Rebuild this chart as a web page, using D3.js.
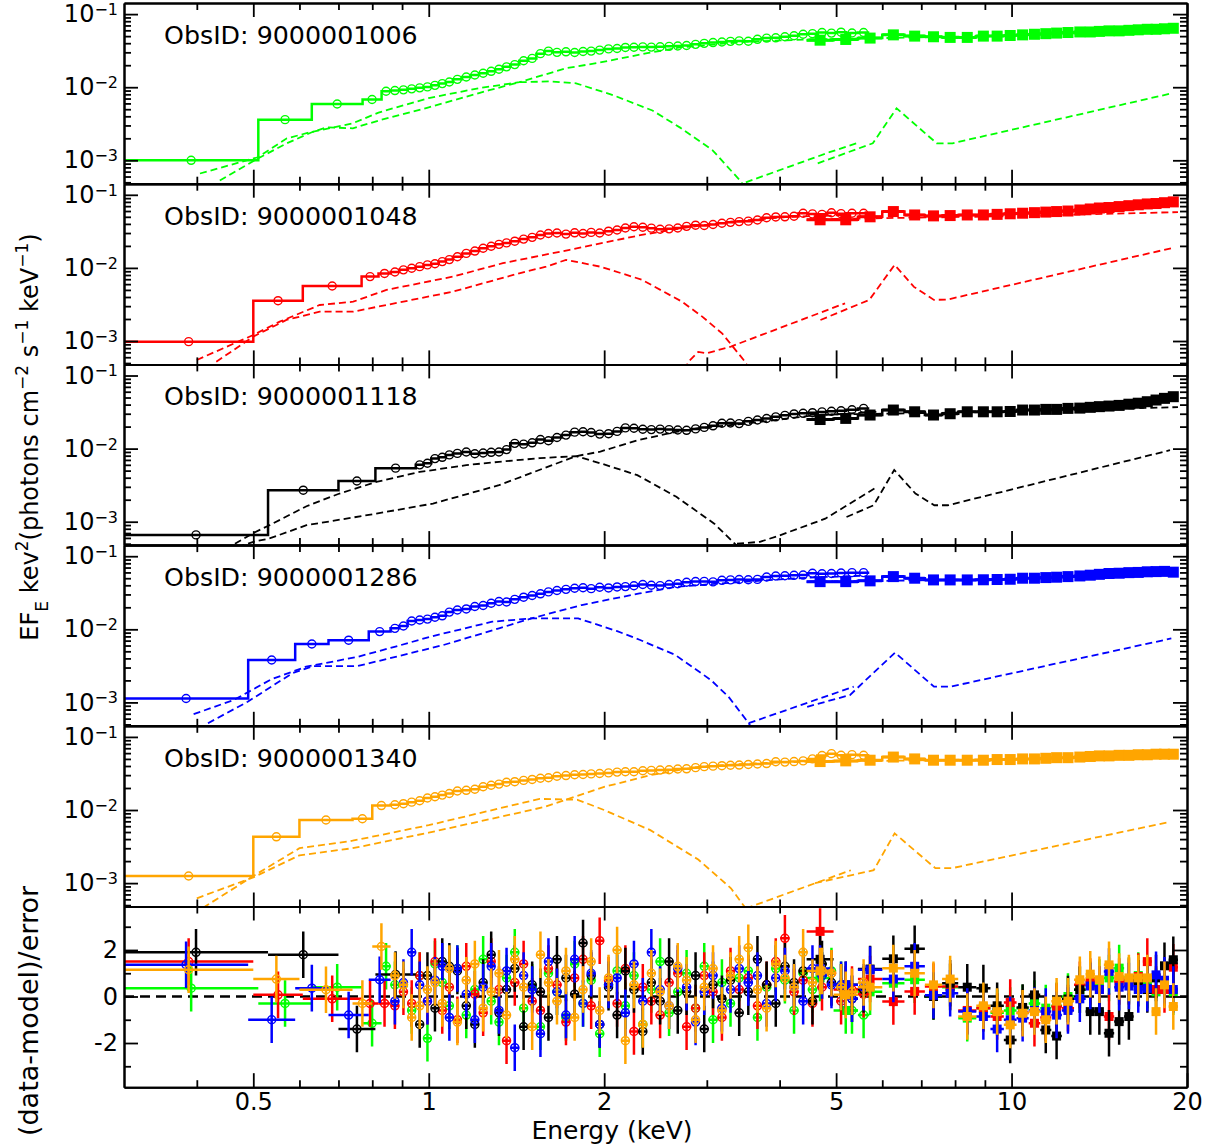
<!DOCTYPE html>
<html>
<head>
<meta charset="utf-8">
<script src="https://cdn.jsdelivr.net/npm/d3@7"></script>
<style>
  body { margin: 0; background: #fff; }
  text { font-family: "DejaVu Sans", sans-serif; }
</style>
</head>
<body>
<div id="chart"></div>
<script>
// observations, one panel each
const obsIds = ["9000001006", "9000001048", "9000001118", "9000001286", "9000001340"];
const colors = ["#00ff00", "#ff0000", "#000000", "#0000ff", "#ffa500"];

// shared fine binning of the soft instrument (keV)
const fineEdges = [0.86, 0.89, 0.92, 0.95, 0.98, 1.01, 1.04, 1.07, 1.10, 1.14, 1.18,
  1.22, 1.26, 1.30, 1.34, 1.38, 1.43, 1.48, 1.53, 1.58, 1.63, 1.69,
  1.75, 1.81, 1.87, 1.93, 2.00, 2.07, 2.14, 2.21, 2.29, 2.37, 2.45,
  2.54, 2.63, 2.72, 2.82, 2.92, 3.02, 3.13, 3.24, 3.35, 3.47, 3.60,
  3.73, 3.87, 4.01, 4.16, 4.31, 4.47, 4.64, 4.82, 5.00, 5.20, 5.45,
  5.70];
// hard instrument binning (keV)
const hardEdges = [4.45, 4.95, 5.45, 6.0, 6.55, 7.1, 7.6, 8.1, 8.7, 9.2, 9.7, 10.2, 10.7, 11.2,
  11.7, 12.2, 12.8, 13.4, 13.9, 14.4, 15.0, 15.6, 16.2, 16.8, 17.4, 18.0, 18.6, 19.3];

// ---- 9000001006 (green)
const coarseEdges1006 = [0.3, 0.51, 0.63, 0.77, 0.83, 0.86];
const coarseFlux1006 = [1.0e-3, 3.6e-3, 5.9e-3, 6.8e-3, 8.8e-3];
const coarseRes1006 = [0.36, -0.3, 0.4, -1.15, 1.3];
const fineFlux1006 = [0.0090, 0.0092, 0.0095, 0.0098, 0.0101, 0.0106, 0.0112, 0.0118, 0.0128, 0.0138, 0.0147,
  0.0155, 0.0165, 0.0176, 0.0190, 0.0204, 0.0230, 0.0248, 0.0288, 0.0312, 0.0300, 0.0305,
  0.0298, 0.0308, 0.0312, 0.0322, 0.0334, 0.0338, 0.0350, 0.0352, 0.0356, 0.0354, 0.0358,
  0.0362, 0.0366, 0.0372, 0.0386, 0.0398, 0.0408, 0.0416, 0.0424, 0.0430, 0.0426, 0.0452,
  0.0470, 0.0474, 0.0490, 0.0506, 0.0530, 0.0540, 0.0560, 0.0550, 0.0566, 0.0552, 0.0560];
const fineRes1006 = [0.5, 0.5, -0.6, 0.9, -1.8, 1.4, 0.6, -0.4, 1.2, -0.8, 0.3,
  1.6, -0.2, -1.1, 0.8, 1.9, -0.5, 0.4, -1.3, 1.0, 0.2, -0.9,
  1.4, -0.3, 0.7, -1.6, 0.5, 1.1, -0.4, 0.9, -1.2, 0.3, 1.5,
  -0.7, 0.2, 1.0, -0.5, 1.3, -1.0, 0.6, -0.3, 0.8, 1.1, -0.9,
  0.4, 1.2, 0.7, -0.6, 1.0, 0.3, 0.9, 1.1, 0.5, -0.6, -0.8];
const hardFlux1006 = [0.044, 0.045, 0.047, 0.052, 0.050, 0.049, 0.048, 0.048, 0.050, 0.050, 0.051, 0.052, 0.053, 0.054,
  0.055, 0.056, 0.057, 0.057, 0.058, 0.059, 0.059, 0.060, 0.061, 0.062, 0.062, 0.063, 0.064];
const hardRes1006 = [0.8, -0.6, 0.2, 0.57, 0.72, 0.0, 0.4, -0.93, -0.5, -0.7, -0.6, -0.5, -0.3, -0.5,
  -0.4, 0.0, 0.3, 0.5, 0.6, 0.8, 1.22, 0.7, 0.9, 0.5, 0.2, 0.6, 0.2];
const cont1006 = [[0.405, 6.6e-4], [0.509, 1.1e-3], [0.571, 2.0e-3], [0.63, 2.45e-3], [0.74, 3.2e-3], [0.82, 4.5e-3],
  [1.0, 7.1e-3], [1.22, 9.7e-3], [1.43, 1.17e-2], [1.72, 1.82e-2], [1.94, 2.13e-2], [2.37, 2.92e-2], [2.7, 3.5e-2],
  [3.5, 4.2e-2], [4.5, 4.5e-2], [5.5, 4.6e-2]];
const hump1006 = [[0.438, 5.3e-4], [0.509, 1.06e-3], [0.571, 1.71e-3], [0.63, 2.42e-3], [0.668, 2.83e-3], [0.741, 2.74e-3],
  [0.824, 3.53e-3], [1.0, 5.3e-3], [1.27, 9.1e-3], [1.43, 1.17e-2], [1.61, 1.2e-2], [1.79, 1.13e-2], [2.07, 7.8e-3],
  [2.42, 4.8e-3], [2.7, 2.8e-3], [3.07, 1.37e-3], [3.42, 5.3e-4], [3.6, 3.0e-4]];
const reflSoft1006 = [[3.5, 5.0e-4], [4.87, 1.29e-3], [5.42, 1.71e-3]];
const reflHard1006 = [[4.65, 9.1e-4], [5.78, 1.71e-3], [6.35, 5.15e-3], [7.44, 1.71e-3], [7.92, 1.71e-3], [18.9, 8.3e-3]];
const contHard1006 = [[4.5, 0.045], [6, 0.047], [10, 0.051], [19.3, 0.060]];

// ---- 9000001048 (red)
const coarseEdges1048 = [0.3, 0.5, 0.608, 0.767, 0.82, 0.86];
const coarseFlux1048 = [9.8e-4, 3.56e-3, 5.66e-3, 7.6e-3, 8.4e-3];
const coarseRes1048 = [1.5, 0.07, -0.1, -0.3, -0.3];
const fineFlux1048 = [0.0088, 0.0094, 0.0099, 0.0104, 0.0110, 0.0114, 0.0122, 0.0130, 0.0142, 0.0158, 0.0170,
  0.0186, 0.0198, 0.0210, 0.0220, 0.0232, 0.0248, 0.0262, 0.0282, 0.0296, 0.0300, 0.0290,
  0.0302, 0.0296, 0.0306, 0.0300, 0.0318, 0.0330, 0.0352, 0.0366, 0.0360, 0.0350, 0.0338,
  0.0342, 0.0352, 0.0370, 0.0384, 0.0380, 0.0392, 0.0408, 0.0420, 0.0430, 0.0436, 0.0452,
  0.0486, 0.0498, 0.0500, 0.0510, 0.0560, 0.0548, 0.0540, 0.0568, 0.0552, 0.0560, 0.0560];
const fineRes1048 = [-0.4, 0.2, -0.3, 0.9, -0.2, 1.5, -0.6, 0.4, -1.0, 1.3, 0.1,
  -0.7, 1.5, 0.3, -1.9, 0.6, 1.4, -0.2, -0.6, 1.2, 0.5, -1.1,
  0.8, 1.6, -0.4, 2.4, 0.7, -0.3, 1.2, -1.5, 0.4, -0.2, -0.8,
  0.6, 1.0, -1.3, -0.5, 0.9, 0.2, -0.9, 1.1, 0.3, 0.8, -0.4,
  0.5, 1.5, 2.5, 0.2, 0.7, -0.3, 0.4, 1.0, -0.2, 0.3, 0.1];
const hardFlux1048 = [0.0455, 0.0455, 0.050, 0.059, 0.053, 0.0515, 0.052, 0.053, 0.053, 0.054, 0.055, 0.056, 0.057, 0.058,
  0.059, 0.060, 0.062, 0.064, 0.066, 0.067, 0.069, 0.071, 0.073, 0.075, 0.076, 0.078, 0.080];
const hardRes1048 = [2.8, 0.3, 0.75, -0.22, 0.22, 0.43, 0.43, -0.6, -0.5, -0.86, -0.26, -0.7, -1.15, -0.9,
  -0.43, -0.5, 0.5, 0.65, 0.3, -0.86, 0.65, 0.65, 0.86, 1.5, 0.3, 0.3, 1.26];
const cont1048 = [[0.40, 5.5e-4], [0.50, 1.21e-3], [0.555, 1.84e-3], [0.65, 3.11e-3], [0.742, 3.45e-3], [0.846, 5.0e-3],
  [1.10, 7.6e-3], [1.34, 1.16e-2], [1.745, 1.77e-2], [2.32, 2.83e-2], [2.72, 3.5e-2], [3.3, 4.3e-2], [4.15, 5.0e-2],
  [5.3, 5.3e-2]];
const hump1048 = [[0.432, 5.2e-4], [0.50, 1.15e-3], [0.57, 1.94e-3], [0.65, 2.52e-3], [0.742, 2.52e-3], [0.846, 3.11e-3],
  [1.10, 4.73e-3], [1.43, 8.45e-3], [1.59, 1.04e-2], [1.72, 1.29e-2], [1.97, 1.04e-2], [2.32, 6.9e-3], [2.72, 3.45e-3],
  [2.95, 2.14e-3], [3.19, 1.26e-3], [3.47, 5.5e-4], [3.6, 3.5e-4]];
const reflSoft1048 = [[2.75, 4.0e-4], [2.79, 5.2e-4], [2.9, 7.1e-4], [3.0, 6.8e-4], [3.3, 8.4e-4], [5.18, 3.28e-3]];
const reflHard1048 = [[4.7, 1.94e-3], [5.7, 3.65e-3], [6.3, 1.1e-2], [6.8, 5.5e-3], [7.36, 3.65e-3], [7.77, 3.7e-3], [18.8, 1.86e-2]];
const contHard1048 = [[4.5, 0.046], [6, 0.048], [10, 0.051], [19.3, 0.058]];

// ---- 9000001118 (black)
const coarseEdges1118 = [0.3, 0.53, 0.70, 0.81, 0.95];
const coarseFlux1118 = [6.6e-4, 2.7e-3, 3.6e-3, 5.4e-3];
const coarseRes1118 = [1.9, 1.8, -1.4, 0.95];
const fineFlux1118 = [null, null, null, 0.0060, 0.0063, 0.0073, 0.0076, 0.0082, 0.0086, 0.0090, 0.0085,
  0.0087, 0.0089, 0.0090, 0.0097, 0.0118, 0.0115, 0.0120, 0.0133, 0.0128, 0.0142, 0.0153,
  0.0168, 0.0170, 0.0166, 0.0158, 0.0160, 0.0172, 0.0192, 0.0190, 0.0184, 0.0182, 0.0185,
  0.0182, 0.0180, 0.0178, 0.0186, 0.0195, 0.0205, 0.0222, 0.0224, 0.0220, 0.0236, 0.0246,
  0.0258, 0.0272, 0.0285, 0.0298, 0.0304, 0.0310, 0.0318, 0.0324, 0.0330, 0.0340, 0.0355];
const fineRes1118 = [null, null, null, -1.2, 0.9, -0.5, 1.5, 1.3, 1.1, -0.4, -1.2,
  0.6, 1.8, -0.7, 0.3, 1.2, -1.3, 0.5, 0.2, -0.9, 1.6, 0.8,
  0.1, 2.3, 0.9, -1.2, 0.4, -0.8, 1.1, 0.3, -1.5, 0.6, -0.2,
  1.5, -0.6, 0.2, 0.9, -1.4, 0.5, -0.1, 0.7, -0.7, 0.2, 1.6,
  0.5, -0.3, 1.3, 0.6, 1.1, -0.2, 1.4, 0.6, 0.4, -0.1, 0.3];
const hardFlux1118 = [0.025, 0.0259, 0.0288, 0.0337, 0.0319, 0.0288, 0.030, 0.0319, 0.0319, 0.0319, 0.0322, 0.0337, 0.0337,
  0.0344, 0.0344, 0.0355, 0.0358, 0.0367, 0.0375, 0.0382, 0.0390, 0.0405, 0.0418, 0.0438, 0.0462, 0.0487, 0.0513];
const hardRes1118 = [1.6, 0.5, 1.18, 1.62, 2.05, 0.0, 0.57, 0.4, 0.36, -0.4, -1.87, -0.47, 0.07, -1.44,
  -1.7, -0.11, 0.29, -0.65, -0.65, -1.58, -1.08, -0.86, 0.57, 0.3, 0.8, 1.32, 1.58];
const cont1118 = [[0.47, 4.5e-4], [0.50, 5.3e-4], [0.533, 5.9e-4], [0.617, 8.95e-4], [0.813, 1.29e-3], [1.017, 1.77e-3],
  [1.32, 3.16e-3], [1.79, 7.9e-3], [1.97, 9.1e-3], [2.28, 1.3e-2], [2.66, 1.7e-2], [2.9, 1.9e-2], [3.5, 2.2e-2],
  [4.5, 2.8e-2], [5.9, 3.2e-2]];
const hump1118 = [[0.465, 5.0e-4], [0.50, 7.0e-4], [0.533, 8.95e-4], [0.617, 1.63e-3], [0.703, 2.43e-3], [0.813, 3.5e-3],
  [0.965, 4.8e-3], [1.16, 5.94e-3], [1.32, 6.6e-3], [1.55, 7.4e-3], [1.79, 7.9e-3], [1.97, 6.3e-3], [2.28, 4.34e-3],
  [2.66, 2.19e-3], [3.09, 9.4e-4], [3.35, 5.0e-4], [3.5, 3.5e-4]];
const reflSoft1118 = [[3.38, 5.0e-4], [3.7, 5.3e-4], [4.0, 6.5e-4], [4.79, 1.1e-3], [5.88, 3.0e-3]];
const reflHard1118 = [[5.21, 1.16e-3], [5.8, 1.68e-3], [6.29, 5.1e-3], [6.84, 2.43e-3], [7.37, 1.68e-3], [7.78, 1.68e-3], [18.7, 9.5e-3]];
const contHard1118 = [[4.5, 0.029], [6, 0.030], [10, 0.032], [19.3, 0.037]];

// ---- 9000001286 (blue)
const coarseEdges1286 = [0.3, 0.49, 0.59, 0.673, 0.789, 0.86];
const coarseFlux1286 = [1.13e-3, 3.8e-3, 6.3e-3, 7.1e-3, 9.3e-3];
const coarseRes1286 = [1.37, -1.0, 0.36, -0.8, 0.72];
const fineFlux1286 = [0.0103, 0.0111, 0.0130, 0.0134, 0.0138, 0.0146, 0.0153, 0.0172, 0.0184, 0.0190, 0.0205,
  0.0212, 0.0227, 0.0240, 0.0236, 0.0257, 0.0275, 0.0290, 0.0306, 0.0325, 0.0340, 0.0352,
  0.0365, 0.0370, 0.0360, 0.0376, 0.0368, 0.0380, 0.0384, 0.0395, 0.0410, 0.0400, 0.0396,
  0.0410, 0.0420, 0.0440, 0.0450, 0.0452, 0.0446, 0.0468, 0.0474, 0.0480, 0.0476, 0.0482,
  0.0520, 0.0536, 0.0540, 0.0548, 0.0552, 0.0585, 0.0575, 0.0580, 0.0590, 0.0596, 0.0596];
const fineRes1286 = [-0.2, 0.6, 1.9, 0.5, -0.2, 0.7, 1.3, -0.9, 1.2, 0.1, -1.0,
  0.4, 1.3, -0.6, 1.1, -2.2, 0.9, 0.3, -1.6, 1.5, 0.2, -0.8,
  1.6, -0.3, 1.0, -1.2, 0.5, 0.8, -0.7, 1.4, -0.2, 1.9, 0.3,
  -0.4, 1.2, 0.4, -1.1, 0.2, 0.9, -0.5, 0.3, 1.2, 0.6, 0.9,
  -0.3, 0.8, 1.1, 0.4, -0.2, 1.2, 0.9, 0.5, 0.5, -0.1, 0.4];
const hardFlux1286 = [0.0449, 0.0449, 0.046, 0.0526, 0.050, 0.0474, 0.0474, 0.0474, 0.0476, 0.048, 0.0484, 0.050, 0.050,
  0.051, 0.0516, 0.0526, 0.0537, 0.055, 0.0565, 0.058, 0.0585, 0.0596, 0.060, 0.0612, 0.0616, 0.062, 0.0605];
const hardRes1286 = [1.2, 0.5, 1.15, 0.75, 1.3, 0.05, 0.14, -0.65, -0.86, -1.4, -1.0, -0.93, -0.6, -0.65,
  -0.8, -0.6, -0.1, 0.45, 0.3, 1.08, 0.4, 0.45, 0.3, 0.35, 0.93, 0.7, 0.3];
const cont1286 = [[0.418, 5.2e-4], [0.489, 1.02e-3], [0.583, 2.5e-3], [0.634, 3.14e-3], [0.755, 3.14e-3], [0.877, 4.2e-3],
  [1.06, 6.1e-3], [1.32, 1.03e-2], [1.5, 1.41e-2], [1.83, 2.15e-2], [2.3, 3.1e-2], [2.65, 3.8e-2], [3.5, 4.5e-2],
  [4.5, 5.1e-2], [5.5, 5.4e-2]];
const hump1286 = [[0.395, 6.9e-4], [0.463, 1.08e-3], [0.537, 2.07e-3], [0.616, 3.08e-3], [0.755, 4.2e-3], [0.877, 5.8e-3],
  [1.005, 7.9e-3], [1.285, 1.27e-2], [1.5, 1.41e-2], [1.805, 1.41e-2], [2.1, 9.5e-3], [2.3, 7.2e-3], [2.65, 4.45e-3],
  [3.05, 2.02e-3], [3.27, 1.19e-3], [3.54, 5.2e-4], [3.65, 3.5e-4]];
const reflSoft1286 = [[3.54, 5.2e-4], [5.36, 1.64e-3]];
const reflHard1286 = [[4.46, 8.7e-4], [5.28, 1.26e-3], [6.31, 4.8e-3], [7.36, 1.64e-3], [7.85, 1.64e-3], [18.8, 7.5e-3]];
const contHard1286 = [[4.5, 0.045], [6, 0.046], [10, 0.049], [19.3, 0.057]];

// ---- 9000001340 (orange)
const coarseEdges1340 = [0.3, 0.5, 0.6, 0.74, 0.80, 0.86];
const coarseFlux1340 = [1.25e-3, 4.3e-3, 7.3e-3, 7.6e-3, 1.15e-2];
const coarseRes1340 = [1.15, 0.75, 0.29, -0.3, 2.15];
const fineFlux1340 = [0.0118, 0.0122, 0.0128, 0.0134, 0.0146, 0.0152, 0.0160, 0.0168, 0.0182, 0.0186, 0.0192,
  0.0208, 0.0218, 0.0226, 0.0240, 0.0244, 0.0254, 0.0262, 0.0272, 0.0276, 0.0290, 0.0296,
  0.0304, 0.0306, 0.0312, 0.0316, 0.0322, 0.0330, 0.0334, 0.0334, 0.0344, 0.0348, 0.0352,
  0.0356, 0.0364, 0.0366, 0.0380, 0.0392, 0.0398, 0.0404, 0.0410, 0.0412, 0.0420, 0.0426,
  0.0432, 0.0458, 0.0452, 0.0460, 0.0470, 0.0500, 0.0556, 0.0590, 0.0560, 0.0572, 0.0560];
const fineRes1340 = [0.9, 0.5, -0.9, -0.4, 0.3, 0.6, -0.3, 1.2, -1.1, 0.7, 1.4,
  -0.5, 0.2, 1.0, -0.8, 1.6, 0.4, -1.3, 1.8, 0.6, -0.2, 1.1,
  -0.9, 0.3, 1.5, -0.6, 0.8, 2.0, -1.9, 0.5, -1.2, 1.0, 0.2,
  -0.4, 1.3, 0.7, -1.0, 0.4, 1.2, -0.6, 0.9, 1.6, 2.1, 0.3,
  -0.5, 1.4, 0.8, 0.4, 1.9, 0.6, 1.1, 1.0, 0.4, 0.2, 0.6];
const hardFlux1340 = [0.046, 0.047, 0.048, 0.053, 0.050, 0.048, 0.048, 0.048, 0.048, 0.049, 0.049, 0.050, 0.050, 0.051,
  0.052, 0.052, 0.053, 0.054, 0.055, 0.055, 0.056, 0.056, 0.057, 0.057, 0.058, 0.058, 0.058];
const hardRes1340 = [1.1, 0.07, 0.4, 1.22, 1.0, 0.5, 0.75, -0.86, -0.4, -0.65, -1.22, -0.72, -0.65, -1.0,
  -0.2, -0.2, 0.72, 0.96, 0.72, 1.36, 0.86, 0.8, 0.8, 0.8, -0.65, 0.5, -0.43];
const cont1340 = [[0.40, 6.2e-4], [0.5, 1.2e-3], [0.6, 2.4e-3], [0.74, 3.0e-3], [1.0, 4.9e-3], [1.32, 8.0e-3],
  [1.58, 1.1e-2], [2.0, 2.07e-2], [2.4, 3.0e-2], [2.9, 3.9e-2], [3.5, 4.3e-2], [4.5, 4.6e-2], [5.4, 4.7e-2]];
const hump1340 = [[0.41, 4.6e-4], [0.5, 1.25e-3], [0.6, 3.0e-3], [0.74, 3.8e-3], [1.0, 6.2e-3], [1.32, 1.05e-2],
  [1.55, 1.42e-2], [1.8, 1.38e-2], [2.0, 1.0e-2], [2.4, 5.3e-3], [2.9, 2.1e-3], [3.3, 8.5e-4], [3.5, 4.5e-4]];
const reflSoft1340 = [[3.5, 4.5e-4], [5.3, 1.5e-3]];
const reflHard1340 = [[4.6, 1.0e-3], [5.8, 1.5e-3], [6.3, 4.8e-3], [7.4, 1.6e-3], [7.9, 1.6e-3], [18.7, 6.9e-3]];
const contHard1340 = [[4.5, 0.046], [6, 0.047], [10, 0.050], [19.3, 0.056]];

// axis ticks
const xMajor = [0.5, 1, 2, 5, 10, 20];
const xMinor = [0.4, 0.6, 0.7, 0.8, 0.9, 3, 4, 6, 7, 8, 9];
const yMajor = [1e-3, 1e-2, 1e-1];
const yMinor = [5e-4, 6e-4, 7e-4, 8e-4, 9e-4, 2e-3, 3e-3, 4e-3, 5e-3, 6e-3, 7e-3, 8e-3, 9e-3,
  2e-2, 3e-2, 4e-2, 5e-2, 6e-2, 7e-2, 8e-2, 9e-2];
const resMajor = [-2, 0, 2];
const resMinor = [-3, -1, 1, 3];

const spectra = [
  {id: obsIds[0], color: colors[0], coarseEdges: coarseEdges1006, coarseFlux: coarseFlux1006, coarseRes: coarseRes1006,
    fineFlux: fineFlux1006, fineRes: fineRes1006, hardFlux: hardFlux1006, hardRes: hardRes1006,
    comps: [cont1006, hump1006, reflSoft1006, reflHard1006, contHard1006]},
  {id: obsIds[1], color: colors[1], coarseEdges: coarseEdges1048, coarseFlux: coarseFlux1048, coarseRes: coarseRes1048,
    fineFlux: fineFlux1048, fineRes: fineRes1048, hardFlux: hardFlux1048, hardRes: hardRes1048,
    comps: [cont1048, hump1048, reflSoft1048, reflHard1048, contHard1048]},
  {id: obsIds[2], color: colors[2], coarseEdges: coarseEdges1118, coarseFlux: coarseFlux1118, coarseRes: coarseRes1118,
    fineFlux: fineFlux1118, fineRes: fineRes1118, hardFlux: hardFlux1118, hardRes: hardRes1118,
    comps: [cont1118, hump1118, reflSoft1118, reflHard1118, contHard1118]},
  {id: obsIds[3], color: colors[3], coarseEdges: coarseEdges1286, coarseFlux: coarseFlux1286, coarseRes: coarseRes1286,
    fineFlux: fineFlux1286, fineRes: fineRes1286, hardFlux: hardFlux1286, hardRes: hardRes1286,
    comps: [cont1286, hump1286, reflSoft1286, reflHard1286, contHard1286]},
  {id: obsIds[4], color: colors[4], coarseEdges: coarseEdges1340, coarseFlux: coarseFlux1340, coarseRes: coarseRes1340,
    fineFlux: fineFlux1340, fineRes: fineRes1340, hardFlux: hardFlux1340, hardRes: hardRes1340,
    comps: [cont1340, hump1340, reflSoft1340, reflHard1340, contHard1340]}
];

// turn edges + values into bins
function bins(edges, values, res) {
  return values.map((v, i) => ({lo: edges[i], hi: edges[i + 1], v: v, r: res[i]}))
    .filter(b => b.v != null);
}
spectra.forEach(s => {
  s.soft = bins(s.coarseEdges, s.coarseFlux, s.coarseRes).concat(bins(fineEdges, s.fineFlux, s.fineRes));
  s.hard = bins(hardEdges, s.hardFlux, s.hardRes);
});

const width = 1217;
const height = 1148;
const plotLeft = 124;
const plotRight = 1187;
const plotTop = 3;
const panelH = 180.7;

const x = d3.scaleLog().domain([0.3, 20]).range([plotLeft, plotRight]);
const y = d3.scaleLog().domain([Math.pow(10, -3.32), Math.pow(10, -0.848)]).range([panelH, 0]);
const yRes = d3.scaleLinear().domain([-3.9, 3.87]).range([panelH, 0]);

const svg = d3.create("svg")
  .attr("width", width)
  .attr("height", height)
  .style("background", "#fff");

const stepLine = d3.line().curve(d3.curveStepAfter).x(d => x(d[0])).y(d => y(d[1]));
const compLine = d3.line().x(d => x(d[0])).y(d => y(d[1]));
const stepPts = bs => bs.map(b => [b.lo, b.v]).concat([[bs[bs.length - 1].hi, bs[bs.length - 1].v]]);
const mid = b => Math.sqrt(b.lo * b.hi);

// frame with inward ticks on all four sides
function frame(g, yScale, majorY, minorY, yFormat, xLabels) {
  const tk = sel => sel.attr("font-size", 24).attr("font-family", "DejaVu Sans")
    .call(s => s.select(".domain").attr("stroke-width", 2))
    .call(s => s.selectAll(".tick line").attr("stroke-width", 1.8));

  const left = g.append("g").attr("class", "y-major").attr("transform", `translate(${plotLeft},0)`)
    .call(d3.axisLeft(yScale).tickValues(majorY).tickSize(-14).tickSizeOuter(0).tickPadding(6).tickFormat(yFormat))
    .call(tk);
  g.append("g").attr("transform", `translate(${plotLeft},0)`)
    .call(d3.axisLeft(yScale).tickValues(minorY).tickSize(-7).tickSizeOuter(0).tickFormat(""))
    .call(tk);
  g.append("g").attr("transform", `translate(${plotRight},0)`)
    .call(d3.axisRight(yScale).tickValues(majorY).tickSize(-14).tickSizeOuter(0).tickFormat(""))
    .call(tk);
  g.append("g").attr("transform", `translate(${plotRight},0)`)
    .call(d3.axisRight(yScale).tickValues(minorY).tickSize(-7).tickSizeOuter(0).tickFormat(""))
    .call(tk);
  g.append("g")
    .call(d3.axisTop(x).tickValues(xMajor).tickSize(-14).tickSizeOuter(0).tickFormat(""))
    .call(tk);
  g.append("g")
    .call(d3.axisTop(x).tickValues(xMinor).tickSize(-7).tickSizeOuter(0).tickFormat(""))
    .call(tk);
  g.append("g").attr("transform", `translate(0,${panelH})`)
    .call(d3.axisBottom(x).tickValues(xMajor).tickSize(-14).tickSizeOuter(0).tickPadding(6)
      .tickFormat(xLabels ? (d => String(d)) : ""))
    .call(tk);
  g.append("g").attr("transform", `translate(0,${panelH})`)
    .call(d3.axisBottom(x).tickValues(xMinor).tickSize(-7).tickSizeOuter(0).tickFormat(""))
    .call(tk);
  return left;
}

// spectra panels
spectra.forEach((s, i) => {
  const g = svg.append("g").attr("transform", `translate(0,${plotTop + i * panelH})`);
  const clipId = "clip-" + i;
  g.append("defs").append("clipPath").attr("id", clipId)
    .append("rect").attr("x", plotLeft).attr("y", 0)
    .attr("width", plotRight - plotLeft).attr("height", panelH);

  const body = g.append("g").attr("clip-path", `url(#${clipId})`);

  // model components
  body.selectAll("path.comp").data(s.comps).join("path")
    .attr("class", "comp")
    .attr("d", compLine)
    .attr("fill", "none")
    .attr("stroke", s.color)
    .attr("stroke-width", 1.8)
    .attr("stroke-dasharray", "7,4");

  // total model, step style
  body.append("path").attr("d", stepLine(stepPts(s.soft)))
    .attr("fill", "none").attr("stroke", s.color).attr("stroke-width", 2.5);
  body.append("path").attr("d", stepLine(stepPts(s.hard)))
    .attr("fill", "none").attr("stroke", s.color).attr("stroke-width", 2.5);

  // soft data: open circles
  body.selectAll("circle").data(s.soft).join("circle")
    .attr("cx", d => x(mid(d)))
    .attr("cy", d => y(d.v))
    .attr("r", 4)
    .attr("fill", "none")
    .attr("stroke", s.color)
    .attr("stroke-width", 1.4);

  // hard data: filled squares with bin bars
  body.selectAll("line.hbar").data(s.hard).join("line")
    .attr("class", "hbar")
    .attr("x1", d => x(d.lo)).attr("x2", d => x(d.hi))
    .attr("y1", d => y(d.v)).attr("y2", d => y(d.v))
    .attr("stroke", s.color).attr("stroke-width", 3);
  body.selectAll("rect.sq").data(s.hard).join("rect")
    .attr("class", "sq")
    .attr("x", d => x(mid(d)) - 5.5)
    .attr("y", d => y(d.v) - 5.5)
    .attr("width", 11).attr("height", 11)
    .attr("fill", s.color);

  const left = frame(g, y, yMajor, yMinor, d => "10", false);

  // 10^-n labels
  left.selectAll(".tick text").each(function(d) {
    const t = d3.select(this).text("").attr("fill", "#000");
    t.append("tspan").text("10");
    t.append("tspan").attr("dy", "-0.45em").attr("font-size", 16)
      .text("\u2212" + Math.round(-Math.log10(d)));
  });

  g.append("text")
    .attr("x", 164).attr("y", 41)
    .attr("font-size", 25.3)
    .attr("fill", "#000")
    .text("ObsID: " + s.id);
});

// residual panel
const gr = svg.append("g").attr("transform", `translate(0,${plotTop + 5 * panelH})`);
gr.append("defs").append("clipPath").attr("id", "clip-res")
  .append("rect").attr("x", plotLeft).attr("y", 0)
  .attr("width", plotRight - plotLeft).attr("height", panelH);
const rb = gr.append("g").attr("clip-path", "url(#clip-res)");

rb.append("line")
  .attr("x1", plotLeft).attr("x2", plotRight)
  .attr("y1", yRes(0)).attr("y2", yRes(0))
  .attr("stroke", "#000").attr("stroke-width", 2.5).attr("stroke-dasharray", "10,6");

spectra.forEach(s => {
  const grp = rb.append("g").attr("stroke", s.color).attr("stroke-width", 2.5);
  const all = s.soft.concat(s.hard);
  grp.selectAll("line.v").data(all).join("line").attr("class", "v")
    .attr("x1", d => x(mid(d))).attr("x2", d => x(mid(d)))
    .attr("y1", d => yRes(d.r - 1)).attr("y2", d => yRes(d.r + 1));
  grp.selectAll("line.h").data(all).join("line").attr("class", "h")
    .attr("x1", d => x(d.lo)).attr("x2", d => x(d.hi))
    .attr("y1", d => yRes(d.r)).attr("y2", d => yRes(d.r));
  grp.selectAll("circle").data(s.soft).join("circle")
    .attr("cx", d => x(mid(d))).attr("cy", d => yRes(d.r))
    .attr("r", 4).attr("fill", "none").attr("stroke-width", 1.5);
  grp.selectAll("rect").data(s.hard).join("rect")
    .attr("x", d => x(mid(d)) - 4.5).attr("y", d => yRes(d.r) - 4.5)
    .attr("width", 9).attr("height", 9)
    .attr("fill", s.color).attr("stroke", "none");
});

frame(gr, yRes, resMajor, resMinor, d => String(d), true);

// axis titles
svg.append("text")
  .attr("x", 612).attr("y", 1139)
  .attr("text-anchor", "middle").attr("font-size", 25).attr("fill", "#000")
  .text("Energy (keV)");

const yl = svg.append("text")
  .attr("transform", "translate(38,437) rotate(-90)")
  .attr("text-anchor", "middle").attr("font-size", 24).attr("fill", "#000");
yl.append("tspan").text("EF");
yl.append("tspan").attr("baseline-shift", "sub").attr("font-size", 17).text("E");
yl.append("tspan").text(" kev");
yl.append("tspan").attr("baseline-shift", "super").attr("font-size", 17).text("2");
yl.append("tspan").text("(photons cm");
yl.append("tspan").attr("baseline-shift", "super").attr("font-size", 17).text("\u22122");
yl.append("tspan").text(" s");
yl.append("tspan").attr("baseline-shift", "super").attr("font-size", 17).text("\u22121");
yl.append("tspan").text(" keV");
yl.append("tspan").attr("baseline-shift", "super").attr("font-size", 17).text("\u22121");
yl.append("tspan").text(")");

svg.append("text")
  .attr("transform", "translate(38,1011) rotate(-90)")
  .attr("text-anchor", "middle").attr("font-size", 27).attr("fill", "#000")
  .text("(data-model)/error");

document.getElementById("chart").append(svg.node());
</script>
</body>
</html>
